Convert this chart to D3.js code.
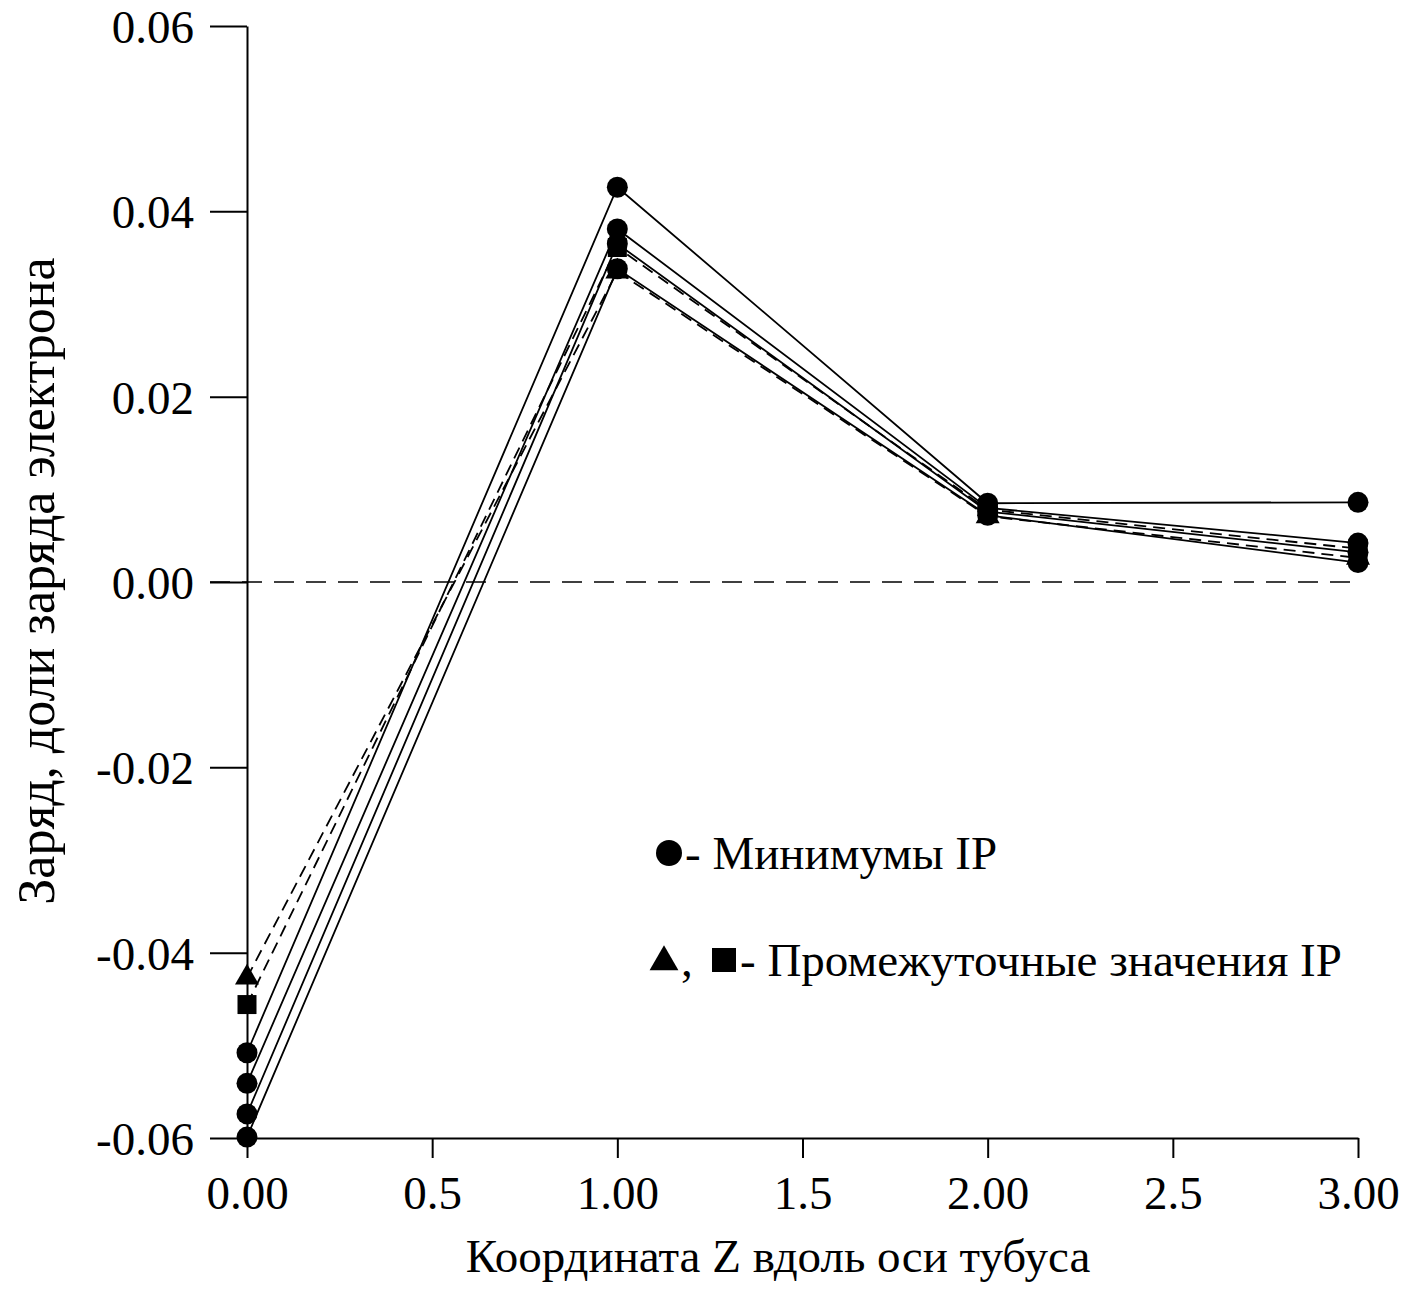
<!DOCTYPE html>
<html>
<head>
<meta charset="utf-8">
<script src="https://cdn.jsdelivr.net/npm/d3@7"></script>
<style>
  body { margin: 0; background: #fff; }
  text { font-family: "Liberation Serif", "Times New Roman", serif; fill: #000; }
</style>
</head>
<body>
<div id="chart"></div>
<script>
// z positions along the tube
const zValues = [0, 1, 2, 3];

// charge series (fractions of electron charge)
const minima1 = [-0.0508, 0.0426, 0.0085, 0.0086];
const minima2 = [-0.0541, 0.0381, 0.0080, 0.0042];
const minima3 = [-0.0574, 0.0365, 0.0076, 0.0032];
const minima4 = [-0.0599, 0.0338, 0.0072, 0.0021];
const interTriangle = [-0.0427, 0.0335, 0.0071, 0.0026];
const interSquare = [-0.0456, 0.0361, 0.0078, 0.0036];

const xTicks = [0, 0.5, 1, 1.5, 2, 2.5, 3];
const xTickLabels = ["0.00", "0.5", "1.00", "1.5", "2.00", "2.5", "3.00"];
const yTicks = [-0.06, -0.04, -0.02, 0, 0.02, 0.04, 0.06];

const series = [
  {values: minima1, marker: "circle", dashed: false},
  {values: minima2, marker: "circle", dashed: false},
  {values: minima3, marker: "circle", dashed: false},
  {values: minima4, marker: "circle", dashed: false},
  {values: interSquare, marker: "square", dashed: true},
  {values: interTriangle, marker: "triangle", dashed: true}
];

const W = 1403, H = 1297;
const margin = {top: 26, right: 45, bottom: 159, left: 247};
const fs = "47px";

const svg = d3.select("#chart")
  .append("svg")
    .attr("width", W)
    .attr("height", H);

const x = d3.scaleLinear()
  .domain([0, 3])
  .range([margin.left, W - margin.right]);

const y = d3.scaleLinear()
  .domain([-0.06, 0.06])
  .range([H - margin.bottom, margin.top]);

// X axis
const xAxis = svg.append("g")
  .attr("transform", `translate(0, ${y(-0.06)})`)
  .call(d3.axisBottom(x)
    .tickValues(xTicks)
    .tickFormat((d, i) => xTickLabels[i])
    .tickSize(20)
    .tickSizeOuter(0)
    .tickPadding(18));

// Y axis
const yAxis = svg.append("g")
  .attr("transform", `translate(${x(0)}, 0)`)
  .call(d3.axisLeft(y)
    .tickValues(yTicks)
    .tickFormat(d => d.toFixed(2).replace("−", "-"))
    .tickSize(37)
    .tickSizeOuter(0)
    .tickPadding(16));

[xAxis, yAxis].forEach(g => {
  g.selectAll("path, line").attr("stroke", "#000").attr("stroke-width", 2);
  g.selectAll("text").style("font-size", fs).attr("fill", "#000")
    .style("font-family", "'Liberation Serif', serif");
});
yAxis.selectAll("text").attr("dy", "0.35em");

// zero reference line
svg.append("line")
  .attr("x1", x(0) - 37)
  .attr("x2", x(3))
  .attr("y1", y(0))
  .attr("y2", y(0))
  .attr("stroke", "#000")
  .attr("stroke-width", 1.6)
  .attr("stroke-dasharray", "20,12");

const line = d3.line()
  .x((d, i) => x(zValues[i]))
  .y(d => y(d));

// lines
svg.selectAll("path.series")
  .data(series)
  .enter()
  .append("path")
    .attr("class", "series")
    .attr("d", d => line(d.values))
    .attr("fill", "none")
    .attr("stroke", "#000")
    .attr("stroke-width", 1.8)
    .attr("stroke-dasharray", d => d.dashed ? "12,7" : null);

// markers
const sym = {
  circle: d3.symbol().type(d3.symbolCircle).size(Math.PI * 10.5 * 10.5),
  square: d3.symbol().type(d3.symbolSquare).size(19 * 19),
  triangle: d3.symbol().type(d3.symbolTriangle).size(250)
};
const legSym = {
  circle: d3.symbol().type(d3.symbolCircle).size(Math.PI * 13 * 13),
  square: d3.symbol().type(d3.symbolSquare).size(24 * 24),
  triangle: d3.symbol().type(d3.symbolTriangle).size(360)
};

series.forEach(s => {
  svg.append("g")
    .selectAll("path")
    .data(s.values)
    .enter()
    .append("path")
      .attr("d", sym[s.marker]())
      .attr("transform", (d, i) => `translate(${x(zValues[i])}, ${y(d)})`)
      .attr("fill", "#000");
});

// legend
const legend = svg.append("g");
legend.append("path")
  .attr("d", legSym.circle())
  .attr("transform", "translate(669, 853)");
legend.append("text")
  .attr("x", 685)
  .attr("y", 869)
  .style("font-size", fs)
  .text("- Минимумы IP");

legend.append("path")
  .attr("d", legSym.triangle())
  .attr("transform", "translate(664, 962)");
legend.append("text")
  .attr("x", 681)
  .attr("y", 976)
  .style("font-size", fs)
  .text(",");
legend.append("path")
  .attr("d", legSym.square())
  .attr("transform", "translate(724, 960)");
legend.append("text")
  .attr("x", 740)
  .attr("y", 976)
  .style("font-size", fs)
  .text("- Промежуточные значения IP");

// axis titles
svg.append("text")
  .attr("x", 778)
  .attr("y", 1272)
  .attr("text-anchor", "middle")
  .style("font-size", fs)
  .text("Координата Z вдоль оси тубуса");

svg.append("text")
  .attr("transform", "translate(54, 581) rotate(-90)")
  .attr("text-anchor", "middle")
  .style("font-size", "52px")
  .text("Заряд, доли заряда электрона");
</script>
</body>
</html>
